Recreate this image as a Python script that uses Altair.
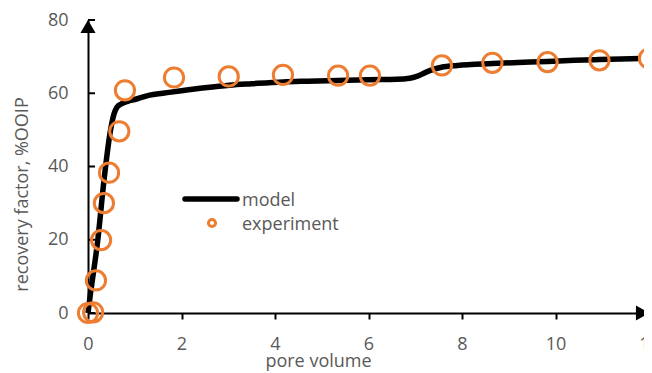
import altair as alt
import pandas as pd

# model curve (pore volume, recovery factor %OOIP)
model_pv = [0.0, 0.05, 0.21, 0.34, 0.47, 0.56, 0.62, 0.70, 0.85, 1.0, 1.32, 1.6, 2.0, 2.5, 3.03,
            3.5, 4.17, 4.7, 5.34, 6.0, 6.6, 6.88, 7.05, 7.31, 7.56, 7.9, 8.65, 9.2, 9.83,
            10.4, 10.94, 11.4, 11.82]
model_rf = [0.0, 5.0, 20.0, 36.0, 49.0, 54.5, 56.2, 57.0, 57.8, 58.3, 59.5, 60.0, 60.7, 61.5, 62.2,
            62.6, 63.1, 63.3, 63.5, 63.7, 63.8, 64.1, 64.7, 66.2, 67.1, 67.6, 68.1, 68.4, 68.7,
            69.0, 69.2, 69.35, 69.5]

# experiment points
exp_pv = [0.0, 0.11, 0.17, 0.28, 0.34, 0.45, 0.67, 0.79, 1.84, 3.01, 4.17, 5.35, 6.03,
          7.57, 8.65, 9.83, 10.94, 12.0]
exp_rf = [0.0, 0.2, 8.9, 19.9, 30.0, 38.3, 49.6, 60.8, 64.3, 64.6, 65.0, 64.8, 64.8,
          67.6, 68.3, 68.5, 69.0, 69.5]

x_ticks = [0, 2, 4, 6, 8, 10, 12]
y_ticks = [0, 20, 40, 60, 80]
series = ["model", "experiment"]

model_df = pd.DataFrame({"pv": model_pv, "rf": model_rf})
exp_df = pd.DataFrame({"pv": exp_pv, "rf": exp_rf})
ytick_df = pd.DataFrame({"rf": y_ticks})

FONT = "Open Sans"
GRAY = "#595959"
ORANGE = "#ED7D31"
FS = 18

xscale = alt.Scale(domain=[0, 12], nice=False, zero=False)
yscale = alt.Scale(domain=[0, 80], nice=False)

x_axis = alt.Axis(values=x_ticks, title="pore volume", grid=False,
                  domainColor="black", domainWidth=2, tickColor="black", tickWidth=2,
                  tickSize=6, labelPadding=16, labelFontSize=FS, labelColor=GRAY,
                  labelFont=FONT, titleFont=FONT, titleFontSize=FS, titleColor=GRAY,
                  titleFontWeight="normal", titleX=230, titleY=53,
                  titleBaseline="alphabetic", labelFlush=False)
y_axis = alt.Axis(values=y_ticks, title="recovery factor, %OOIP", grid=False,
                  domainColor="black", domainWidth=2, ticks=False,
                  labelPadding=20, labelFontSize=FS, labelColor=GRAY,
                  labelFont=FONT, titleFont=FONT, titleFontSize=FS, titleColor=GRAY,
                  titleFontWeight="normal", titleX=-66, titleY=174,
                  titleBaseline="middle", labelFlush=False)

line = alt.Chart(model_df).mark_line(color="black", strokeWidth=5.5, interpolate="monotone").encode(
    x=alt.X("pv:Q", scale=xscale, axis=x_axis),
    y=alt.Y("rf:Q", scale=yscale, axis=y_axis),
)

pts = alt.Chart(exp_df).mark_point(shape="circle", size=370, filled=False, color=ORANGE,
                                   strokeWidth=3, opacity=1).encode(
    x=alt.X("pv:Q", scale=xscale),
    y=alt.Y("rf:Q", scale=yscale),
)

yticks = alt.Chart(ytick_df).mark_rule(color="black", strokeWidth=2).encode(
    y=alt.Y("rf:Q", scale=yscale),
    x=alt.value(0),
    x2=alt.value(7),
)

arrow_df = pd.DataFrame({"pv": [x_ticks[0]], "rf": [y_ticks[-1]]})
arrow_up = alt.Chart(arrow_df).mark_point(shape="triangle-up", size=230, filled=True,
                                          color="black", opacity=1, yOffset=6.5).encode(
    x=alt.X("pv:Q", scale=xscale), y=alt.Y("rf:Q", scale=yscale))
arrow_df2 = pd.DataFrame({"pv": [x_ticks[-1]], "rf": [y_ticks[0]]})
arrow_right = alt.Chart(arrow_df2).mark_point(shape="triangle-right", size=230, filled=True,
                                              color="black", opacity=1, xOffset=-6.5).encode(
    x=alt.X("pv:Q", scale=xscale), y=alt.Y("rf:Q", scale=yscale))

# legend
leg_line = alt.Chart(pd.DataFrame({"k": [0]})).mark_rule(color="black", strokeWidth=5.5,
                                                          strokeCap="round").encode(
    x=alt.value(97), x2=alt.value(149), y=alt.value(179))
leg_pt = alt.Chart(pd.DataFrame({"k": [0]})).mark_point(shape="circle", size=50, filled=False,
                                                         color=ORANGE, strokeWidth=3, opacity=1).encode(
    x=alt.value(124), y=alt.value(203))
leg_txt = alt.Chart(pd.DataFrame({"t": series, "yy": [181, 205]})).mark_text(
    align="left", baseline="middle", font=FONT, fontSize=FS, color=GRAY).encode(
    x=alt.value(154), y=alt.Y("yy:Q", scale=None), text="t:N")

chart = alt.layer(yticks, line, pts, arrow_up, arrow_right, leg_line, leg_pt, leg_txt).properties(
    width=561, height=293,
    autosize=alt.AutoSizeParams(type="none"),
    padding={"left": 80, "top": 12, "right": -5, "bottom": 60},
).configure_view(stroke=None)

chart.save("out.html", embed_options={"renderer": "svg", "actions": False})
